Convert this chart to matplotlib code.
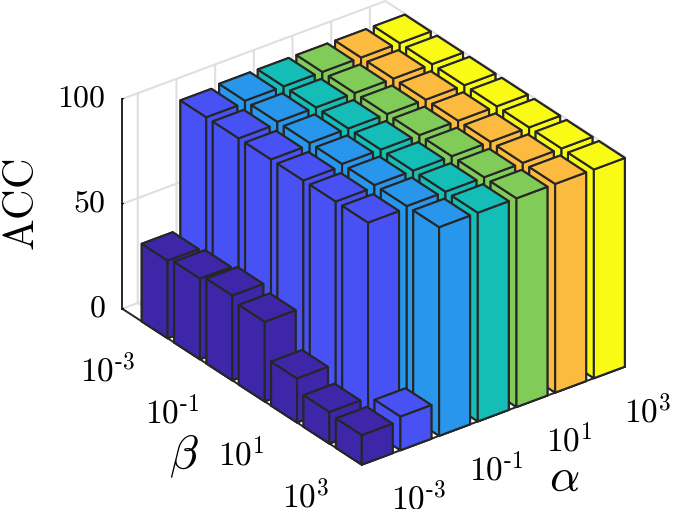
import matplotlib
matplotlib.use('Agg')
import matplotlib.pyplot as plt
from matplotlib.transforms import ScaledTranslation

plt.rcParams['mathtext.fontset'] = 'cm'
plt.rcParams['grid.color'] = '#dfdfdf'
plt.rcParams['grid.linewidth'] = 1.5

alpha_pos = [1, 2, 3, 4, 5, 6, 7]
beta_pos = [1, 2, 3, 4, 5, 6, 7]
tick_labels = [r'$10^{\text{-}3}$', '', r'$10^{\text{-}1}$', '', '$10^{1}$', '', '$10^{3}$']
z_ticks = [0, 50, 100]
z_labels = ['$0$', '$50$', '$100$']

# one row per alpha, beta from 1e-3 to 1e3
acc_a1 = [37, 38.5, 40.5, 38, 21, 15, 14]
acc_a2 = [98.5, 98.5, 98.5, 98.5, 98.5, 98.5, 16]
acc_a3 = [99.5, 99.5, 99.5, 99.5, 99.5, 99.5, 99.5]
acc_a4 = [99.5, 99.5, 99.5, 99.5, 99.5, 99.5, 99.5]
acc_a5 = [99.5, 99.5, 99.5, 99.5, 99.5, 99.5, 99.5]
acc_a6 = [99.5, 99.5, 99.5, 99.5, 99.5, 99.5, 99.5]
acc_a7 = [99.5, 99.5, 99.5, 99.5, 99.5, 99.5, 99.5]
acc = [acc_a1, acc_a2, acc_a3, acc_a4, acc_a5, acc_a6, acc_a7]
colors = ['#3e26a8', '#4852f4', '#2796eb', '#14bdb6', '#81cc59', '#fcbb3e', '#f9fb15']

edge = '#262626'
w = 0.8

fig = plt.figure(figsize=(6.73, 5.10), dpi=100)
S = 900
ax = fig.add_axes([-88.6 / 673, -186 / 510, S / 673, S / 510], projection='3d', proj_type='ortho')
ax.patch.set_alpha(0)
ax.computed_zorder = False
ax.view_init(elev=29.5, azim=232.9)
ax.set_box_aspect((0.678, 0.816, 0.4954), zoom=0.6144)

# back to front, so the bars overlap the right way
n = 1
for i in reversed(range(len(alpha_pos))):
    for j in range(len(beta_pos)):
        ax.bar3d(alpha_pos[i] - w / 2, beta_pos[j] - w / 2, 0, w, w, acc[i][j],
                 color=colors[i], edgecolor=edge, linewidth=1.5, shade=False, zorder=n)
        n += 1

ax.set_xlim(0.6, 7.4)
ax.set_ylim(7.4, 0)
ax.set_zlim(0, 100)

ax.set_xticks(alpha_pos)
ax.set_xticklabels(tick_labels, fontsize=24, ha='left', va='top')
ax.set_yticks(beta_pos)
ax.set_yticklabels(tick_labels, fontsize=24, ha='right', va='top')
ax.set_zticks(z_ticks)
ax.set_zticklabels(z_labels, fontsize=23, ha='right', va='center')

for a in [ax.xaxis, ax.yaxis, ax.zaxis]:
    a.set_pane_color((1, 1, 1, 0))
    a.pane.set_edgecolor((1, 1, 1, 0))
    a.line.set_color(edge)
    a.line.set_linewidth(1.4)
    a._axinfo['tick']['inward_factor'] = 0
    a._axinfo['tick']['outward_factor'] = 0.05
    a._axinfo['tick']['color'] = edge
    a.set_rotate_label(False)

ax.tick_params(axis='x', pad=12)
ax.tick_params(axis='y', pad=17)
ax.tick_params(axis='z', pad=3)

# z tick labels sit a little above their ticks
for t in ax.zaxis.get_major_ticks():
    t.label1.set_transform(t.label1.get_transform() + ScaledTranslation(0, 4 / 100, fig.dpi_scale_trans))

ax.xaxis._axinfo['label']['ha'] = 'left'
ax.xaxis._axinfo['label']['va'] = 'bottom'

ax.set_xlabel(r'$\alpha$', fontsize=34, labelpad=57)
ax.set_ylabel(r'$\beta$', fontsize=34, labelpad=54)
# z label placed on the figure, the 3d axis keeps it centred on the axis line
fig.text(22 / 673, 1 - 205 / 510, r'$\mathrm{ACC}$', fontsize=30.5, rotation=90, ha='center', va='center')

fig.savefig('out.png', dpi=100)
